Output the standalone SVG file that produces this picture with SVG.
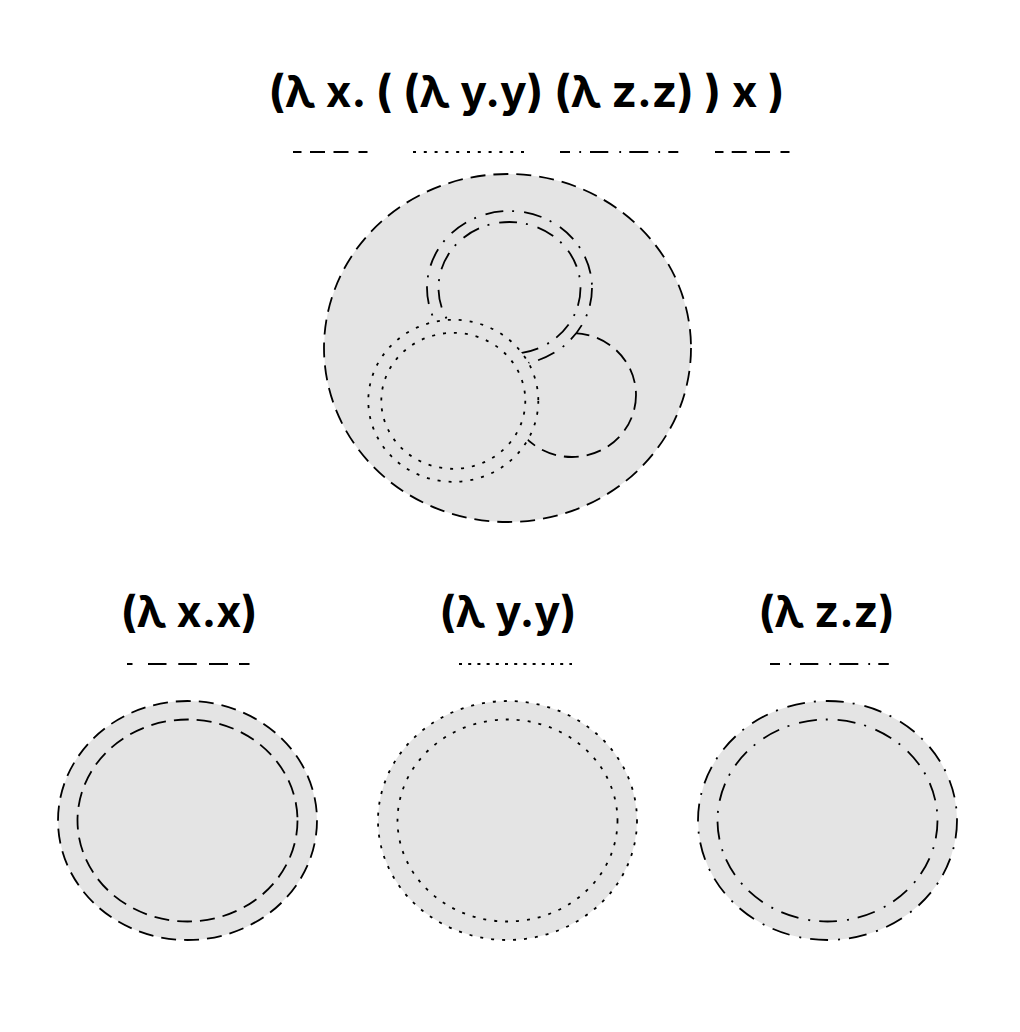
<svg xmlns="http://www.w3.org/2000/svg" width="1020" height="1032" viewBox="0 0 1020 1032">
<style>
.bg{fill:#ffffff}
.shape{fill:#e4e4e4;stroke:#000;stroke-width:1.8}
.ring{fill:none;stroke:#000;stroke-width:1.8}
.dash{stroke-dasharray:15 8}
.dot{stroke-dasharray:3 8}
.dashdot{stroke-dasharray:18 9 2 10}
.leg{stroke:#000;stroke-width:2;fill:none}
.title{font-family:"Inter","Noto Sans",sans-serif;font-weight:700;fill:#000;text-anchor:middle}
</style>
<rect class="bg" x="0" y="0" width="1020" height="1032"/>

<g id="title">
  <text class="title" x="526.5" y="107" font-size="44.4">(λ x. ( (λ y.y) (λ z.z) ) x )</text>
  <path class="leg" d="M293 152h8.5M310 152h15M333.5 152h15M358.5 152h9"/>
  <line class="leg" x1="413" y1="152" x2="525" y2="152" stroke-dasharray="3 7.8"/>
  <path class="leg" d="M560 152h10M579.3 152h1.8M590 152h18.3M619.3 152h1.8M629.3 152h19M658.3 152h1.8M668.3 152h10"/>
  <path class="leg" d="M715 152h8.5M731.7 152h15M755 152h15M780.5 152h9"/>
</g>

<g id="composite">
  <ellipse class="shape dash" cx="507.5" cy="348" rx="183.5" ry="174"/>
  <g id="comp-x">
    <ellipse class="shape dash" cx="572" cy="395" rx="64" ry="62"/>
  </g>
  <g id="comp-z">
    <ellipse class="shape dashdot" cx="509.5" cy="288" rx="82.5" ry="77"/>
    <ellipse class="ring dashdot" cx="509.5" cy="288" rx="71" ry="66"/>
  </g>
  <g id="comp-y">
    <ellipse class="shape dot" cx="453.3" cy="400.8" rx="85" ry="81"/>
    <ellipse class="ring dot" cx="453.3" cy="400.8" rx="72" ry="68"/>
  </g>
</g>

<g id="node-x">
  <text class="title" x="189" y="627" font-size="43.3">(λ x.x)</text>
  <path class="leg" d="M127 664h5.5M148 664h18.5M178.3 664h18.5M209 664h19M239 664h10.5"/>
  <ellipse class="shape dash" cx="187.5" cy="820.5" rx="129.5" ry="119.5"/>
  <ellipse class="ring dash" cx="187.5" cy="820.5" rx="110" ry="101"/>
</g>

<g id="node-y">
  <text class="title" x="508" y="627" font-size="43.3">(λ y.y)</text>
  <line class="leg" x1="459" y1="664" x2="572" y2="664" stroke-dasharray="3 6.2"/>
  <ellipse class="shape dot" cx="507.5" cy="820.5" rx="129.5" ry="119.5"/>
  <ellipse class="ring dot" cx="507.5" cy="820.5" rx="110" ry="101"/>
</g>

<g id="node-z">
  <text class="title" x="826.5" y="627" font-size="43.3">(λ z.z)</text>
  <path class="leg" d="M770 664h10M789.3 664h1.8M800 664h18.3M829.3 664h1.8M839.3 664h19M868.3 664h1.8M878.3 664h10.5"/>
  <ellipse class="shape dashdot" cx="827.5" cy="820.5" rx="129.5" ry="119.5"/>
  <ellipse class="ring dashdot" cx="827.5" cy="820.5" rx="110" ry="101"/>
</g>
</svg>
